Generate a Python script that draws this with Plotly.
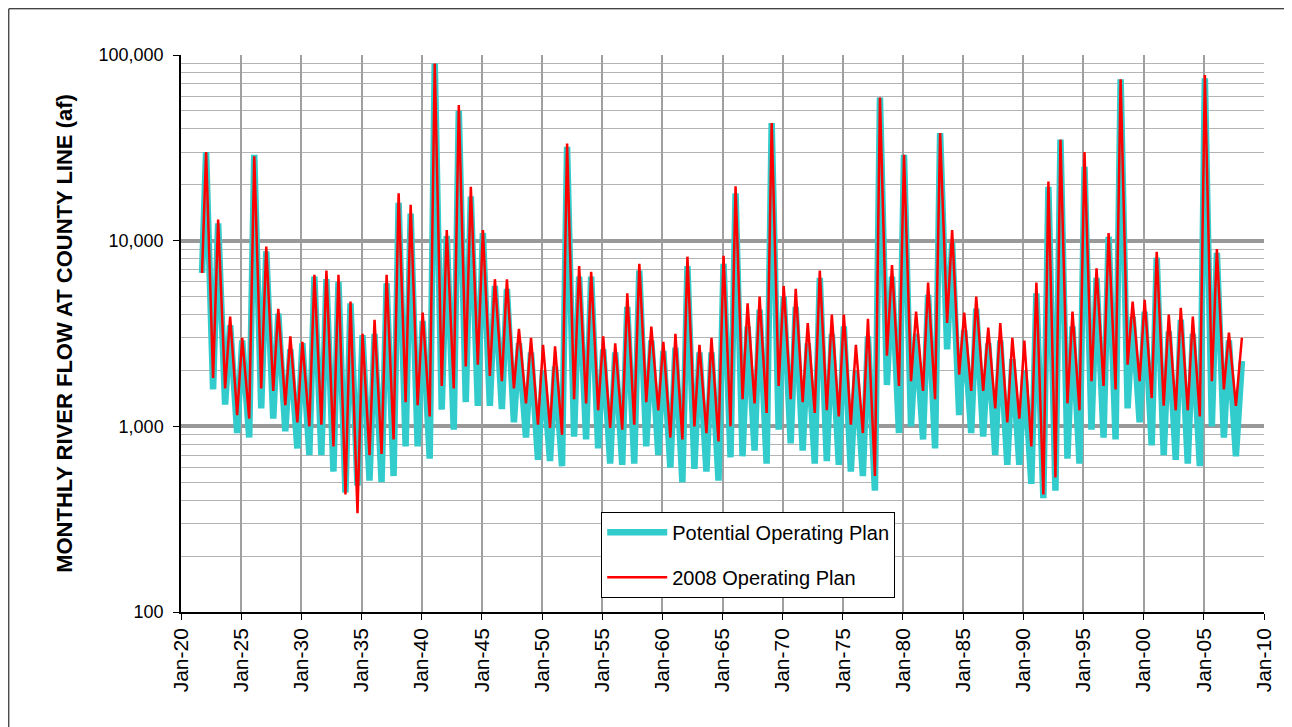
import plotly.graph_objects as go

# water years: winter peak and late-summer low per year (af)
years = list(range(1922, 2008))

potential_peak = [30000, 12400, 3500, 2900, 29000, 8750, 4050, 2600, 2800, 6400,
                  6200, 6000, 4600, 3100, 3150, 5900, 16000, 14000, 3700, 90000,
                  10600, 50000, 17300, 11000, 5700, 5500, 2800, 2500, 2000, 2100,
                  32000, 6400, 6400, 2600, 2500, 4400, 6900, 2900, 2550, 2650,
                  7300, 2500, 2500, 7500, 18000, 3450, 4250, 43000, 5000, 4400,
                  2800, 6300, 3150, 3450, 2000, 3050, 59000, 6400, 29000, 3150,
                  5100, 38000, 9700, 3300, 4300, 2800, 2900, 2300, 2000, 5200,
                  19500, 35000, 3450, 25000, 6300, 10500, 74000, 3900, 4150, 8100,
                  3250, 3750, 3150, 75000, 8600, 2900]
potential_low = [1580, 1310, 920, 870, 1250, 1100, 940, 760, 700, 700,
                 570, 440, 480, 510, 500, 540, 780, 780, 670, 1230,
                 960, 1350, 1290, 1290, 1240, 1050, 870, 660, 650, 610,
                 880, 850, 760, 630, 620, 630, 780, 700, 600, 500,
                 590, 570, 510, 680, 690, 740, 630, 960, 810, 740,
                 630, 650, 620, 570, 540, 450, 1670, 920, 1000, 850,
                 760, 2600, 1150, 920, 880, 700, 620, 620, 490, 410,
                 450, 670, 630, 960, 870, 850, 1250, 1050, 790, 700,
                 660, 630, 610, 1000, 870, 690]

plan2008_peak = [30000, 13000, 3900, 3000, 28500, 9300, 4300, 3050, 2850, 6550,
                 6900, 6550, 4700, 3150, 3750, 6550, 18000, 15600, 4100, 90000,
                 11400, 53800, 19500, 11400, 6200, 6200, 3350, 3000, 2750, 2700,
                 33400, 7300, 6800, 3050, 2800, 5200, 7500, 3450, 2850, 3150,
                 8200, 2750, 3000, 8300, 19600, 4600, 5000, 43000, 5700, 5500,
                 3600, 6900, 4000, 4000, 2750, 3800, 59000, 7400, 29000, 4150,
                 5950, 38000, 11400, 4100, 5000, 3400, 3600, 3000, 2900, 5950,
                 20800, 35000, 4150, 30000, 7100, 11000, 74000, 4700, 4800, 8700,
                 4000, 4350, 3900, 78000, 9000, 3200]
plan2008_low = [1820, 1600, 1150, 1100, 1600, 1550, 1300, 1050, 1000, 1020,
                780, 430, 340, 700, 710, 850, 1350, 1300, 1130, 1650,
                1600, 2100, 2150, 1870, 1750, 1600, 1330, 1020, 980, 900,
                1400, 1330, 1220, 980, 960, 1020, 1350, 1220, 870, 850,
                1000, 920, 830, 1000, 1400, 1330, 1180, 1650, 1400, 1350,
                1180, 1220, 1130, 1020, 920, 540, 2400, 1650, 1750, 1550,
                1400, 3600, 1900, 1550, 1550, 1250, 1050, 1100, 780, 430,
                530, 1330, 1220, 1750, 1650, 1580, 2150, 1750, 1420, 1290,
                1220, 1220, 1130, 1750, 1580, 1290]

first_flow = {"Potential": 6700, "2008": 6700}   # Oct 1921
last_flow = {"Potential": 2250, "2008": 3000}    # Mar 2008

tick_years = list(range(1920, 2011, 5))
tick_labels = ["Jan-%02d" % (y % 100) for y in tick_years]
decade_ticks = [100, 1000, 10000, 100000]
decade_labels = ["100", "1,000", "10,000", "100,000"]
minor_ticks = [m * d for d in (100, 1000, 10000) for m in range(2, 10)]


def build_series(peaks, lows, start, end):
    x = ["1921-10-01"]
    y = [start]
    for yr, pk, lo in zip(years, peaks, lows):
        x += [f"{yr}-02-01", f"{yr}-09-01"]
        y += [pk, lo]
    x.append("2008-03-01")
    y.append(end)
    return x, y


px, py = build_series(potential_peak, potential_low, first_flow["Potential"], last_flow["Potential"])
rx, ry = build_series(plan2008_peak, plan2008_low, first_flow["2008"], last_flow["2008"])

FONT = "Liberation Sans, Arial, sans-serif"

fig = go.Figure()
fig.add_trace(go.Scatter(x=px, y=py, mode="lines", name="Potential Operating Plan",
                         line=dict(color="#33CCCC", width=6.5), legendgroup="a"))
fig.add_trace(go.Scatter(x=rx, y=ry, mode="lines", name="2008 Operating Plan",
                         line=dict(color="#FF0000", width=2.5), legendgroup="b"))

# page has an 8px body margin, so the figure is drawn 8px in from the window edge
fig.update_layout(
    width=1284, height=719,
    paper_bgcolor="white", plot_bgcolor="white",
    margin=dict(l=173, r=28, t=47, b=115),
    font=dict(family=FONT, color="black"),
    legend=dict(x=0.388, y=0.18, xanchor="left", yanchor="top",
                bordercolor="black", borderwidth=1, bgcolor="white",
                font=dict(size=20), tracegroupgap=16, itemwidth=60),
    shapes=[dict(type="rect", xref="paper", yref="paper",
                 x0=-0.159, x1=1.0245, y0=-0.25, y1=1.083,
                 line=dict(color="black", width=1), layer="below")],
)

fig.update_xaxes(
    type="date", range=["1920-01-01", "2010-01-01"],
    tickvals=[f"{y}-01-01" for y in tick_years], ticktext=tick_labels,
    tickangle=-90, tickfont=dict(size=21),
    showgrid=True, gridcolor="#a0a0a0", gridwidth=2,
    showline=True, linecolor="black", linewidth=1.5,
    ticks="outside", ticklen=6, tickcolor="black", zeroline=False,
)

fig.update_yaxes(
    type="log", range=[2, 5],
    tickvals=decade_ticks, ticktext=decade_labels,
    tickfont=dict(size=18), ticklabelstandoff=6,
    showgrid=True, gridcolor="#999999", gridwidth=4,
    minor=dict(tickmode="array", tickvals=minor_ticks, showgrid=True,
               gridcolor="#b4b4b4", gridwidth=1, ticks=""),
    showline=True, linecolor="black", linewidth=1.5,
    ticks="outside", ticklen=6, tickcolor="black", zeroline=False,
    title=dict(text="<b>MONTHLY RIVER FLOW AT COUNTY LINE (af)</b>",
               font=dict(size=22), standoff=20),
)

fig.write_html("out.html")
